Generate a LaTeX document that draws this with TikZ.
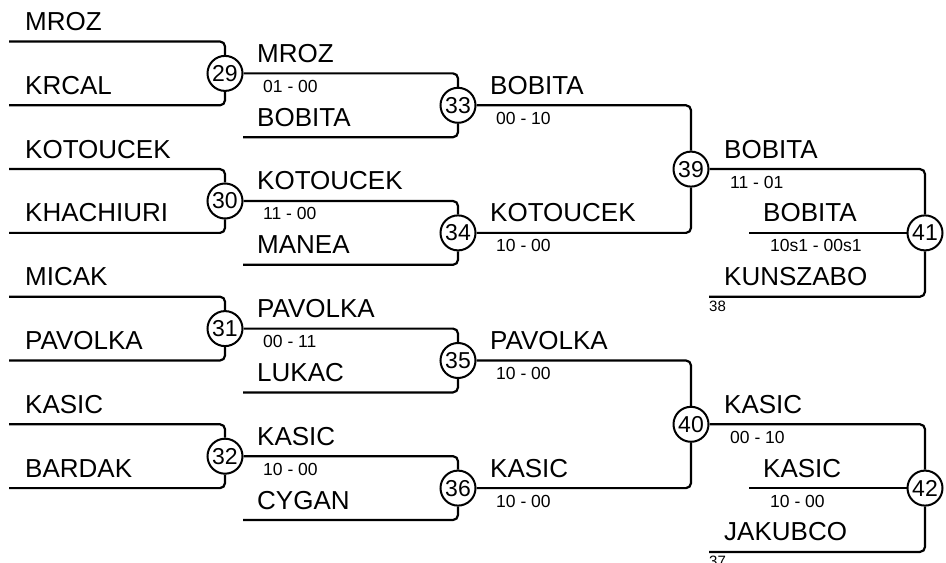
\documentclass[tikz,border=0pt]{standalone}
\usepackage{fontspec}
\setmainfont{Liberation Sans}
\usepackage{tikz}

\begin{document}
\begin{tikzpicture}[x=1pt,y=-31.9pt,
  branch/.style={line width=2.2pt,rounded corners=5pt},
  game/.style={circle,draw,line width=2pt,fill=white,minimum size=35pt,inner sep=0pt,
    font=\fontsize{23}{23}\selectfont},
  player/.style={anchor=base west,inner sep=0pt,yshift=11pt,
    font=\fontsize{26}{26}\selectfont},
  score/.style={anchor=base west,inner sep=0pt,yshift=-19pt,
    font=\fontsize{17.5}{17.5}\selectfont},
  seed/.style={anchor=base west,inner sep=0pt,yshift=-14.5pt,
    font=\fontsize{15}{15}\selectfont}]
\useasboundingbox (0,-1.301) rectangle (946,16.317);

% games
\node (m29) at (225,1) [game] {29};
\node (m30) at (225,5) [game] {30};
\node (m31) at (225,9) [game] {31};
\node (m32) at (225,13) [game] {32};
\node (m33) at (458,2) [game] {33};
\node (m34) at (458,6) [game] {34};
\node (m35) at (458,10) [game] {35};
\node (m36) at (458,14) [game] {36};
\node (m39) at (691,4) [game] {39};
\node (m40) at (691,12) [game] {40};
\node (m41) at (925,6) [game] {41};
\node (m42) at (925,14) [game] {42};

% free line ends
\coordinate (a0) at (9,0);
\coordinate (a2) at (9,2);
\coordinate (a4) at (9,4);
\coordinate (a6) at (9,6);
\coordinate (a8) at (9,8);
\coordinate (a10) at (9,10);
\coordinate (a12) at (9,12);
\coordinate (a14) at (9,14);
\coordinate (b3) at (243,3);
\coordinate (b7) at (243,7);
\coordinate (b11) at (243,11);
\coordinate (b15) at (243,15);
\coordinate (c6) at (749,6);
\coordinate (c8) at (709,8);
\coordinate (c14) at (749,14);
\coordinate (c16) at (709,16);

% round 1
\draw [branch] (a0) -| (m29.north);
\draw [branch] (a2) -| (m29.south);
\draw [branch] (a4) -| (m30.north);
\draw [branch] (a6) -| (m30.south);
\draw [branch] (a8) -| (m31.north);
\draw [branch] (a10) -| (m31.south);
\draw [branch] (a12) -| (m32.north);
\draw [branch] (a14) -| (m32.south);
\node (p0) at (25,0) [player] {MROZ};
\node (p2) at (25,2) [player] {KRCAL};
\node (p4) at (25,4) [player] {KOTOUCEK};
\node (p6) at (25,6) [player] {KHACHIURI};
\node (p8) at (25,8) [player] {MICAK};
\node (p10) at (25,10) [player] {PAVOLKA};
\node (p12) at (25,12) [player] {KASIC};
\node (p14) at (25,14) [player] {BARDAK};

% round 2
\draw [branch] (m29.east) -| (m33.north);
\draw [branch] (b3) -| (m33.south);
\draw [branch] (m30.east) -| (m34.north);
\draw [branch] (b7) -| (m34.south);
\draw [branch] (m31.east) -| (m35.north);
\draw [branch] (b11) -| (m35.south);
\draw [branch] (m32.east) -| (m36.north);
\draw [branch] (b15) -| (m36.south);
\node (q1) at (257,1) [player] {MROZ};
\node (s29) at (263,1) [score] {01 - 00};
\node (q3) at (257,3) [player] {BOBITA};
\node (q5) at (257,5) [player] {KOTOUCEK};
\node (s30) at (263,5) [score] {11 - 00};
\node (q7) at (257,7) [player] {MANEA};
\node (q9) at (257,9) [player] {PAVOLKA};
\node (s31) at (263,9) [score] {00 - 11};
\node (q11) at (257,11) [player] {LUKAC};
\node (q13) at (257,13) [player] {KASIC};
\node (s32) at (263,13) [score] {10 - 00};
\node (q15) at (257,15) [player] {CYGAN};

% round 3
\draw [branch] (m33.east) -| (m39.north);
\draw [branch] (m34.east) -| (m39.south);
\draw [branch] (m35.east) -| (m40.north);
\draw [branch] (m36.east) -| (m40.south);
\node (r2) at (490,2) [player] {BOBITA};
\node (s33) at (496,2) [score] {00 - 10};
\node (r6) at (490,6) [player] {KOTOUCEK};
\node (s34) at (496,6) [score] {10 - 00};
\node (r10) at (490,10) [player] {PAVOLKA};
\node (s35) at (496,10) [score] {10 - 00};
\node (r14) at (490,14) [player] {KASIC};
\node (s36) at (496,14) [score] {10 - 00};

% finals
\draw [branch] (m39.east) -| (m41.north);
\draw [branch] (c6) -- (m41.west);
\draw [branch] (c8) -| (m41.south);
\draw [branch] (m40.east) -| (m42.north);
\draw [branch] (c14) -- (m42.west);
\draw [branch] (c16) -| (m42.south);
\node (t4) at (724,4) [player] {BOBITA};
\node (s39) at (730,4) [score] {11 - 01};
\node (t6) at (763,6) [player] {BOBITA};
\node (s41) at (770,6) [score] {10s1 - 00s1};
\node (t8) at (724,8) [player] {KUNSZABO};
\node (n38) at (709,8) [seed] {38};
\node (t12) at (724,12) [player] {KASIC};
\node (s40) at (730,12) [score] {00 - 10};
\node (t14) at (763,14) [player] {KASIC};
\node (s42) at (770,14) [score] {10 - 00};
\node (t16) at (724,16) [player] {JAKUBCO};
\node (n37) at (709,16) [seed] {37};
\end{tikzpicture}
\end{document}
